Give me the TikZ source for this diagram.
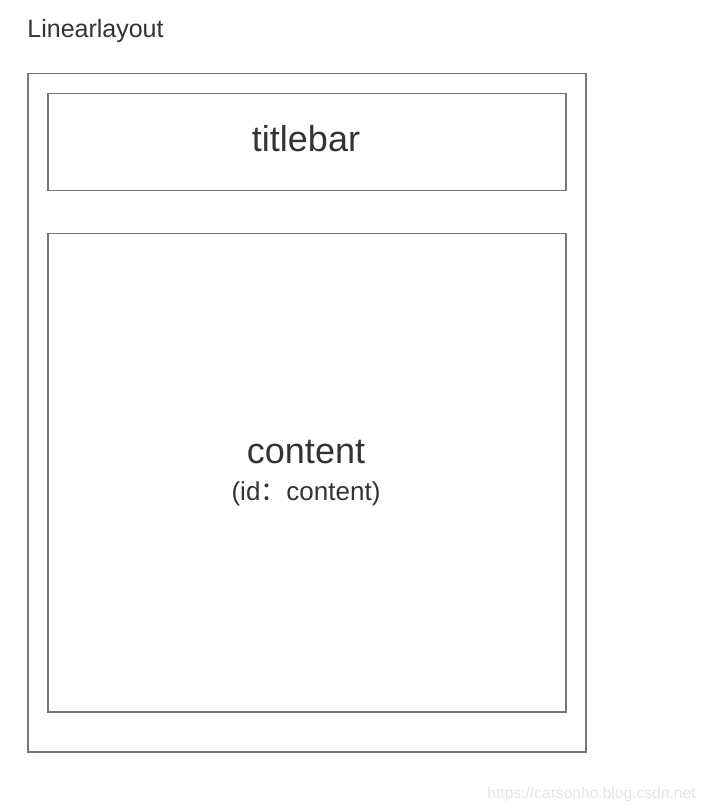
\documentclass[tikz,border=0pt]{standalone}
\usepackage{fontspec}
\setmainfont{Liberation Sans}
\newfontfamily\cjk{Noto Sans CJK SC}
\usetikzlibrary{positioning}

\definecolor{boxgray}{HTML}{777777}
\definecolor{textgray}{HTML}{333333}
\definecolor{markgray}{HTML}{E4E4E4}

\tikzset{
  frame/.style={draw=boxgray, line width=0.75pt, inner sep=0pt, anchor=north west},
  big/.style={text=textgray, font=\fontsize{18}{20}\selectfont},
  small/.style={text=textgray, font=\fontsize{13}{15}\selectfont}
}

\begin{document}
\begin{tikzpicture}[x=0.5pt,y=-0.5pt]
\useasboundingbox (0,0) rectangle (706,812);
\node[small, anchor=west, inner sep=0pt, font=\fontsize{12.5}{14}\selectfont] (lbl) at (27,31) {Linearlayout};
\node[frame, minimum width=279pt, minimum height=339pt] (outer) at (27,73) {};
\node[frame, minimum width=259pt, minimum height=48.5pt] (bar) at (47,93) {};
\node[frame, minimum width=259pt, minimum height=239pt] (body) at (47,233) {};
\node[big] (bartxt) at (306,139) {titlebar};
\node[big] (bodytxt) at (306,452) {content};
\node[small] (idtxt) at (306,494) {(id{\cjk ：}content)};
\node[text=markgray, font=\fontsize{7.8}{9}\selectfont, anchor=east, inner sep=0pt] (mark) at (696,794) {https://carsonho.blog.csdn.net};
\end{tikzpicture}
\end{document}
